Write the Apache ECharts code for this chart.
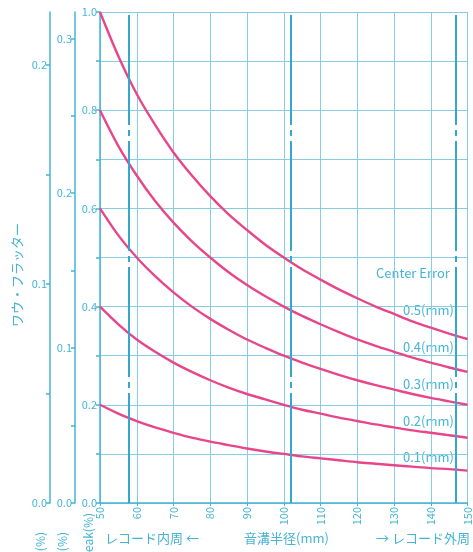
<!DOCTYPE html>
<html>
<head>
<meta charset="utf-8">
<script src="https://cdn.jsdelivr.net/npm/echarts@6/dist/echarts.min.js"></script>
<style>
  html, body { margin: 0; padding: 0; background: #fff; }
  #chart { width: 473px; height: 552px; }
</style>
</head>
<body>
<div id="chart"></div>
<script>
// 音溝半径 (mm)
const radius = [50, 55, 60, 65, 70, 75, 80, 85, 90, 95, 100, 105, 110, 115, 120, 125, 130, 135, 140, 145, 150];
// Center Error (mm) ごとのカーブ
const errors = [0.5, 0.4, 0.3, 0.2, 0.1];
const err05 = [1.00, 0.91, 0.833, 0.77, 0.714, 0.667, 0.625, 0.588, 0.556, 0.526, 0.50, 0.476, 0.455, 0.435, 0.417, 0.40, 0.385, 0.37, 0.357, 0.345, 0.334];
const err04 = [0.80, 0.727, 0.667, 0.615, 0.571, 0.533, 0.50, 0.47, 0.444, 0.421, 0.40, 0.381, 0.364, 0.348, 0.333, 0.32, 0.308, 0.296, 0.286, 0.276, 0.267];
const err03 = [0.60, 0.545, 0.50, 0.462, 0.429, 0.40, 0.375, 0.353, 0.333, 0.316, 0.30, 0.286, 0.273, 0.261, 0.25, 0.24, 0.231, 0.222, 0.214, 0.207, 0.20];
const err02 = [0.40, 0.364, 0.333, 0.308, 0.286, 0.267, 0.25, 0.235, 0.222, 0.211, 0.20, 0.19, 0.182, 0.174, 0.167, 0.16, 0.154, 0.148, 0.143, 0.138, 0.133];
const err01 = [0.20, 0.182, 0.167, 0.154, 0.143, 0.133, 0.125, 0.118, 0.111, 0.105, 0.10, 0.095, 0.091, 0.087, 0.083, 0.08, 0.077, 0.074, 0.071, 0.069, 0.066];
// レコード位置の太線
const markRadius = [57.7, 101.8, 146.8];

const cyan = "#45b4d4";
const gridCyan = "#86cfe3";
const pink = "#e8468b";
const font = "'Noto Sans CJK JP', 'Noto Sans', sans-serif";

const chart = echarts.init(document.getElementById("chart"));

const allData = [err05, err04, err03, err02, err01];

const seriesArr = allData.map((arr, index) => {
  return {
    name: errors[index] + "(mm)",
    type: "line",
    data: radius.map((r, i) => [r, arr[i]]),
    smooth: 0.3,
    showSymbol: false,
    silent: true,
    lineStyle: { color: pink, width: 2.4 },
    markLine: index === 0 ? {
      silent: true,
      symbol: "none",
      label: { show: false },
      lineStyle: { color: "#33a8cc", width: 2, type: [110, 5, 6, 5] },
      data: markRadius.map((r) => ({ xAxis: r }))
    } : undefined
  };
});

// 読み取りラベル
const labelY = [310, 347, 384, 421, 457];
const graphics = [
  {
    type: "text", left: 376, top: 267,
    style: { text: "Center Error", fill: cyan, font: "13px " + font, backgroundColor: "#fff" }
  }
];
errors.forEach((e, i) => {
  graphics.push({
    type: "text", x: 402, y: labelY[i],
    style: {
      text: e.toFixed(1) + "(mm)", fill: cyan, font: "13px " + font,
      textVerticalAlign: "middle", backgroundColor: "#fff", padding: [1, 1]
    }
  });
});
graphics.push(
  {
    type: "text", x: 17, y: 275, rotation: Math.PI / 2,
    style: { text: "ワウ・フラッター", fill: cyan, font: "13px " + font, textAlign: "center", textVerticalAlign: "middle" }
  },
  {
    type: "text", x: 40, y: 532, rotation: Math.PI / 2,
    style: { text: "(%)", fill: cyan, font: "12px " + font, textAlign: "right", textVerticalAlign: "middle" }
  },
  {
    type: "text", x: 62, y: 532, rotation: Math.PI / 2,
    style: { text: "(%)", fill: cyan, font: "12px " + font, textAlign: "right", textVerticalAlign: "middle" }
  },
  {
    type: "text", x: 88, y: 513, rotation: Math.PI / 2,
    style: { text: "Peak(%)", fill: cyan, font: "12px " + font, textAlign: "right", textVerticalAlign: "middle" }
  },
  {
    type: "text", x: 105, y: 538,
    style: { text: "レコード内周 ←", fill: cyan, font: "13px " + font, textVerticalAlign: "middle" }
  },
  {
    type: "text", x: 244, y: 538,
    style: { text: "音溝半径(mm)", fill: cyan, font: "13px " + font, textVerticalAlign: "middle" }
  },
  {
    type: "text", x: 376, y: 538,
    style: { text: "→ レコード外周", fill: cyan, font: "13px " + font, textVerticalAlign: "middle" }
  }
);

function tenth(v) {
  return Math.abs(v * 10 - Math.round(v * 10)) < 1e-6;
}

const sideAxis = (offset, max) => ({
  type: "value",
  position: "left",
  offset: offset,
  min: 0,
  max: max,
  interval: 0.05,
  axisLine: { show: true, lineStyle: { color: cyan, width: 1.5 } },
  axisTick: { show: true, length: 4, lineStyle: { color: cyan, width: 1.5 } },
  axisLabel: {
    color: cyan, fontSize: 11, fontFamily: font, margin: 3,
    showMaxLabel: false,
    formatter: (v) => (tenth(v) ? v.toFixed(1) : "")
  },
  splitLine: { show: false }
});

const option = {
  backgroundColor: "#fff",
  animation: false,
  grid: { left: 100, right: 3, top: 12, bottom: 49 },
  xAxis: {
    type: "value",
    min: 50,
    max: 150,
    interval: 10,
    axisLine: { lineStyle: { color: cyan, width: 1.5 } },
    axisTick: { show: true, length: 3, lineStyle: { color: cyan } },
    axisLabel: { color: cyan, fontSize: 11, fontFamily: font, rotate: 90, margin: 4 },
    splitLine: { show: true, lineStyle: { color: gridCyan, width: 1 } }
  },
  yAxis: [
    {
      type: "value",
      position: "left",
      min: 0,
      max: 1,
      interval: 0.1,
      axisLine: { show: true, lineStyle: { color: cyan, width: 1.5 } },
      axisTick: { show: true, length: 4, lineStyle: { color: cyan, width: 1.5 } },
      axisLabel: {
        color: cyan, fontSize: 11, fontFamily: font, margin: 3,
        formatter: (v) => (Math.round(v * 10) % 2 === 0 ? v.toFixed(1) : "")
      },
      splitLine: { show: true, lineStyle: { color: gridCyan, width: 1 } }
    },
    sideAxis(25, 0.317),
    sideAxis(50, 0.2242)
  ],
  series: seriesArr,
  graphic: graphics
};

chart.setOption(option);
</script>
</body>
</html>
